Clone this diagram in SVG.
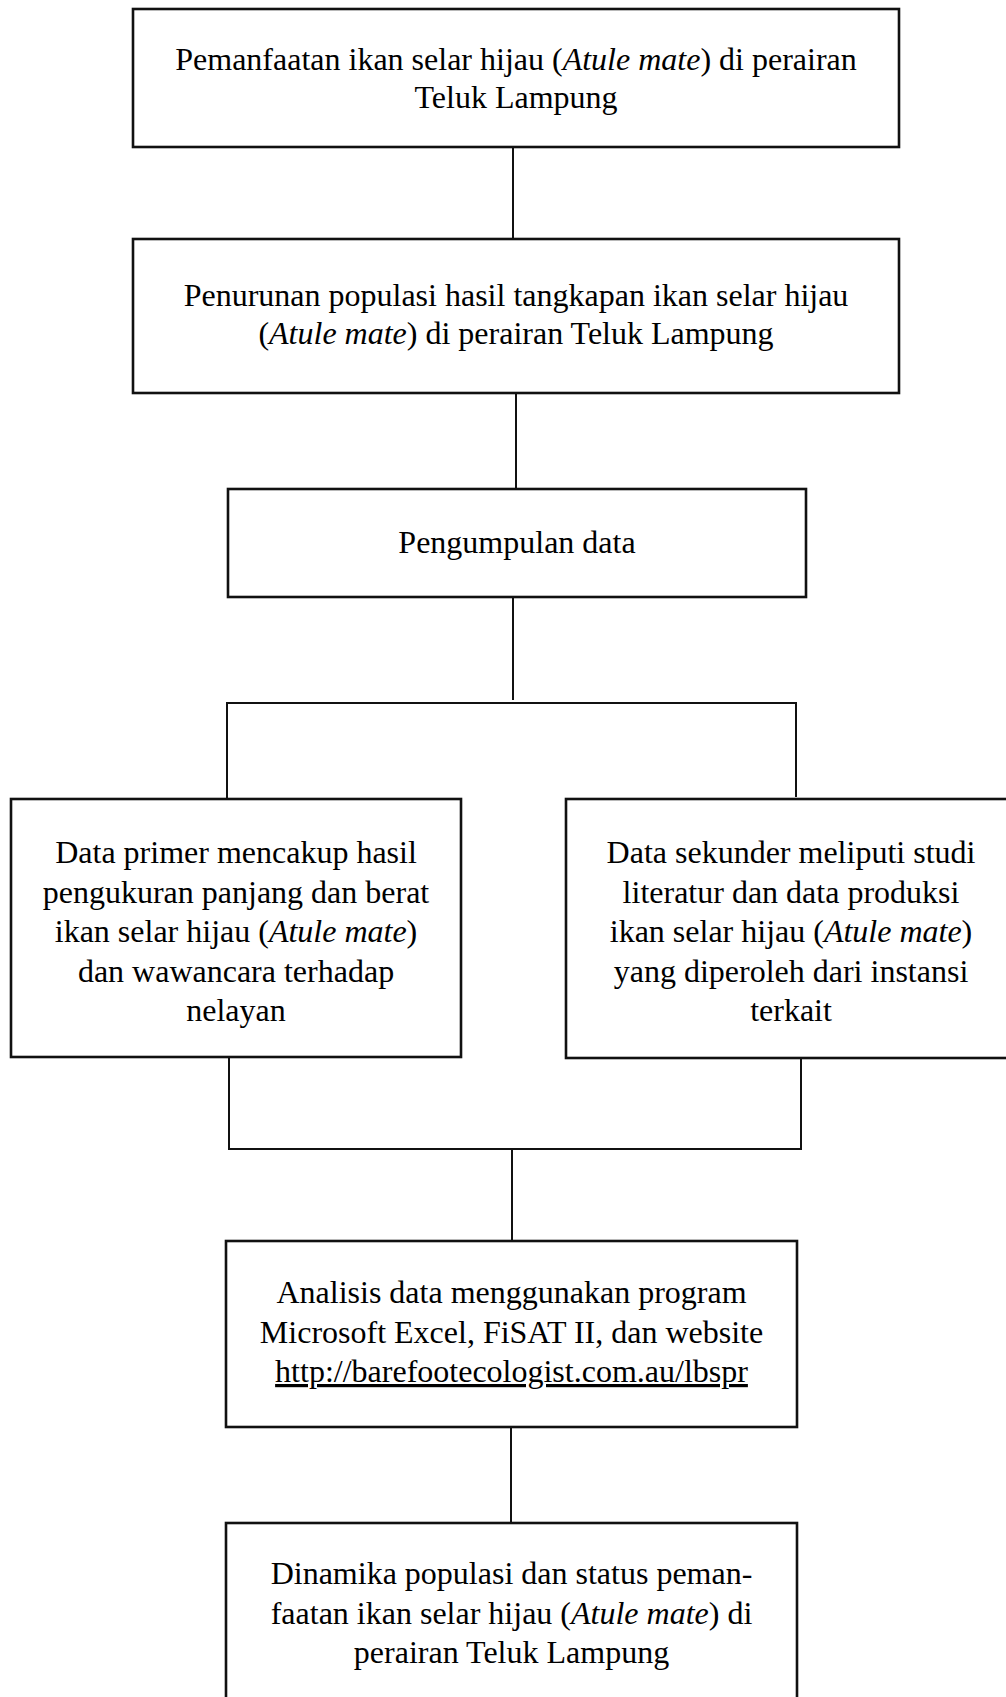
<svg xmlns="http://www.w3.org/2000/svg" width="1006" height="1697" viewBox="0 0 1006 1697">
<style>
.box{fill:#fff;stroke:#111;stroke-width:2.6}
.ln{stroke:#111;stroke-width:2;fill:none}
.t{font-family:"Liberation Serif","Times New Roman",serif;font-size:32px;fill:#000;text-anchor:middle}
.i{font-style:italic}
</style>
<rect width="1006" height="1697" fill="#fff"/>
<g id="connectors">
<line class="ln" x1="513" y1="147" x2="513" y2="239"/>
<line class="ln" x1="516" y1="393" x2="516" y2="489"/>
<line class="ln" x1="513" y1="597" x2="513" y2="700"/>
<line class="ln" x1="226" y1="703" x2="797" y2="703"/>
<line class="ln" x1="227" y1="702" x2="227" y2="799"/>
<line class="ln" x1="796" y1="702" x2="796" y2="797"/>
<line class="ln" x1="229" y1="1057" x2="229" y2="1150"/>
<line class="ln" x1="801" y1="1058" x2="801" y2="1150"/>
<line class="ln" x1="228" y1="1149" x2="802" y2="1149"/>
<line class="ln" x1="512" y1="1149" x2="512" y2="1241"/>
<line class="ln" x1="511" y1="1427" x2="511" y2="1523"/>
</g>
<g id="node1">
<rect class="box" x="133" y="9" width="766" height="138"/>
<text class="t" x="516" y="70">Pemanfaatan ikan selar hijau (<tspan class="i">Atule mate</tspan>) di perairan</text>
<text class="t" x="516" y="108">Teluk Lampung</text>
</g>
<g id="node2">
<rect class="box" x="133" y="239" width="766" height="154"/>
<text class="t" x="516" y="306">Penurunan populasi hasil tangkapan ikan selar hijau</text>
<text class="t" x="516" y="344">(<tspan class="i">Atule mate</tspan>) di perairan Teluk Lampung</text>
</g>
<g id="node3">
<rect class="box" x="228" y="489" width="578" height="108"/>
<text class="t" x="517" y="553">Pengumpulan data</text>
</g>
<g id="node4">
<rect class="box" x="11" y="799" width="450" height="258"/>
<text class="t" x="236" y="863">Data primer mencakup hasil</text>
<text class="t" x="236" y="902.5">pengukuran panjang dan berat</text>
<text class="t" x="236" y="942">ikan selar hijau (<tspan class="i">Atule mate</tspan>)</text>
<text class="t" x="236" y="981.5">dan wawancara terhadap</text>
<text class="t" x="236" y="1021">nelayan</text>
</g>
<g id="node5">
<rect class="box" x="566" y="799" width="450" height="259"/>
<text class="t" x="791" y="863">Data sekunder meliputi studi</text>
<text class="t" x="791" y="902.5">literatur dan data produksi</text>
<text class="t" x="791" y="942">ikan selar hijau (<tspan class="i">Atule mate</tspan>)</text>
<text class="t" x="791" y="981.5">yang diperoleh dari instansi</text>
<text class="t" x="791" y="1021">terkait</text>
</g>
<g id="node6">
<rect class="box" x="226" y="1241" width="571" height="186"/>
<text class="t" x="511.5" y="1303">Analisis data menggunakan program</text>
<text class="t" x="511.5" y="1343">Microsoft Excel, FiSAT II, dan website</text>
<text class="t" x="511.5" y="1382" text-decoration="underline">http://barefootecologist.com.au/lbspr</text>
</g>
<g id="node7">
<rect class="box" x="226" y="1523" width="571" height="200"/>
<text class="t" x="511.5" y="1584">Dinamika populasi dan status peman-</text>
<text class="t" x="511.5" y="1623.5">faatan ikan selar hijau (<tspan class="i">Atule mate</tspan>) di</text>
<text class="t" x="511.5" y="1663">perairan Teluk Lampung</text>
</g>
</svg>
